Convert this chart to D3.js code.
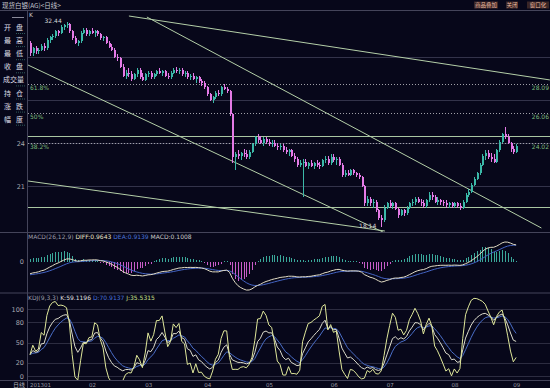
<!DOCTYPE html>
<html>
<head>
<meta charset="utf-8">
<script src="https://cdn.jsdelivr.net/npm/d3@7"></script>
<style>
  html, body { margin: 0; padding: 0; background: #07071a; }
  svg { display: block; font-family: "DejaVu Sans", sans-serif; }
  .cjk { font-family: "Noto Sans CJK SC", sans-serif; }
</style>
</head>
<body>
<div class="canvas"></div>
<script>
// dimensions
const w = 550;
const h = 388;

// month axis
const monthLabels = ["201301", "02", "03", "04", "05", "06", "07", "08", "09"];
const monthDays = [21, 20, 21, 22, 23, 20, 23, 22, 2];

// daily candles [open, high, low, close]
const candles = [
  // Jan
  [31.0, 31.1, 30.1, 30.3], [30.3, 30.7, 30.1, 30.6], [30.6, 30.8, 30.2, 30.4], [30.4, 30.6, 30.2, 30.5],
  [30.5, 30.9, 30.4, 30.8], [30.8, 31.0, 30.4, 30.6], [30.6, 31.3, 30.5, 31.2], [31.2, 31.5, 31.0, 31.4],
  [31.4, 31.6, 31.2, 31.5], [31.5, 31.9, 31.3, 31.8], [31.8, 31.9, 31.5, 31.7], [31.7, 32.2, 31.6, 32.1],
  [32.1, 32.3, 31.9, 32.2], [32.2, 32.44, 32.0, 32.3], [32.3, 32.4, 31.7, 31.8], [31.8, 31.9, 31.2, 31.3],
  [31.3, 31.5, 30.9, 31.0], [31.0, 31.2, 30.8, 31.1], [31.1, 31.8, 31.0, 31.7], [31.7, 32.0, 31.6, 31.9],
  [31.9, 32.0, 31.5, 31.6],
  // Feb
  [31.6, 31.9, 31.5, 31.8], [31.8, 32.0, 31.6, 31.7], [31.7, 31.9, 31.4, 31.8], [31.8, 31.9, 31.5, 31.6],
  [31.6, 31.7, 31.2, 31.3], [31.3, 31.5, 31.1, 31.4], [31.4, 31.5, 30.9, 31.0], [31.0, 31.1, 30.6, 30.7],
  [30.7, 30.9, 30.4, 30.5], [30.5, 30.6, 29.9, 30.0], [30.0, 30.2, 29.7, 29.9], [29.9, 30.0, 29.2, 29.3],
  [29.3, 29.5, 28.6, 28.7], [28.7, 29.1, 28.5, 28.9], [28.9, 29.2, 28.6, 28.8], [28.8, 29.0, 28.3, 28.5],
  [28.5, 28.9, 28.4, 28.8], [28.8, 29.2, 28.6, 29.1], [29.1, 29.2, 28.5, 28.6], [28.6, 28.9, 28.3, 28.4],
  // Mar
  [28.4, 28.9, 28.3, 28.8], [28.8, 29.0, 28.6, 28.9], [28.9, 29.0, 28.5, 28.6], [28.6, 28.9, 28.5, 28.8],
  [28.8, 29.1, 28.7, 29.0], [29.0, 29.2, 28.8, 28.9], [28.9, 29.1, 28.7, 29.0], [29.0, 29.1, 28.6, 28.7],
  [28.7, 28.9, 28.5, 28.6], [28.6, 29.0, 28.5, 28.9], [28.9, 29.2, 28.8, 29.1], [29.1, 29.3, 28.9, 29.0],
  [29.0, 29.2, 28.8, 29.1], [29.1, 29.2, 28.7, 28.8], [28.8, 29.0, 28.6, 28.9], [28.9, 29.0, 28.5, 28.6],
  [28.6, 28.8, 28.4, 28.7], [28.7, 28.9, 28.4, 28.5], [28.5, 28.7, 28.2, 28.6], [28.6, 28.7, 28.2, 28.3],
  [28.3, 28.5, 28.0, 28.2],
  // Apr
  [28.2, 28.3, 27.8, 27.9], [27.9, 28.0, 27.3, 27.4], [27.4, 27.5, 26.9, 27.0], [27.0, 27.3, 26.8, 27.2],
  [27.2, 27.6, 27.1, 27.5], [27.5, 27.7, 27.3, 27.4], [27.4, 28.0, 27.3, 27.9], [27.9, 28.1, 27.7, 27.8],
  [27.8, 27.9, 27.5, 27.6], [27.6, 27.7, 25.9, 26.0], [26.0, 26.1, 22.6, 23.0], [23.0, 23.4, 22.1, 23.2],
  [23.2, 23.5, 22.9, 23.1], [23.1, 23.4, 22.8, 23.3], [23.3, 23.6, 23.0, 23.2], [23.2, 23.5, 22.9, 23.0],
  [23.0, 23.5, 22.9, 23.4], [23.4, 24.0, 23.3, 23.9], [23.9, 24.5, 23.8, 24.4], [24.4, 24.6, 24.0, 24.2],
  [24.2, 24.5, 23.9, 24.0], [24.0, 24.4, 23.8, 24.3],
  // May
  [24.3, 24.4, 23.9, 24.1], [24.1, 24.3, 23.8, 23.9], [23.9, 24.2, 23.7, 24.0], [24.0, 24.2, 23.7, 23.8],
  [23.8, 24.0, 23.5, 23.7], [23.7, 23.9, 23.5, 23.8], [23.8, 23.9, 23.4, 23.5], [23.5, 23.7, 23.2, 23.4],
  [23.4, 23.6, 23.1, 23.5], [23.5, 23.6, 23.0, 23.1], [23.1, 23.3, 22.7, 22.9], [22.9, 23.0, 22.3, 22.5],
  [22.5, 22.8, 22.3, 22.6], [22.6, 22.9, 20.2, 22.7], [22.7, 22.9, 22.3, 22.4], [22.4, 22.7, 22.2, 22.6],
  [22.6, 22.8, 22.3, 22.4], [22.4, 22.7, 22.2, 22.6], [22.6, 22.8, 22.3, 22.5], [22.5, 22.7, 22.2, 22.4],
  [22.4, 22.9, 22.3, 22.8], [22.8, 23.1, 22.6, 22.9], [22.9, 23.1, 22.5, 22.6],
  // Jun
  [22.6, 23.2, 22.5, 23.0], [23.0, 23.2, 22.7, 22.8], [22.8, 23.0, 22.5, 22.9], [22.9, 23.0, 22.4, 22.5],
  [22.5, 22.6, 21.6, 21.8], [21.8, 22.1, 21.6, 21.9], [21.9, 22.1, 21.7, 21.8], [21.8, 22.2, 21.7, 22.1],
  [22.1, 22.2, 21.8, 21.9], [21.9, 22.0, 21.6, 21.8], [21.8, 21.9, 21.5, 21.6], [21.6, 21.7, 20.9, 21.0],
  [21.0, 21.1, 19.6, 19.8], [19.8, 20.3, 19.6, 20.1], [20.1, 20.2, 19.6, 19.8], [19.8, 20.1, 19.5, 19.9],
  [19.9, 20.0, 19.2, 19.3], [19.3, 19.4, 18.6, 18.8], [18.8, 19.0, 18.14, 18.6], [18.6, 19.7, 18.5, 19.5],
  // Jul
  [19.5, 19.9, 19.4, 19.8], [19.8, 20.0, 19.5, 19.6], [19.6, 19.9, 19.4, 19.8], [19.8, 19.9, 19.3, 19.4],
  [19.4, 19.5, 18.8, 19.0], [19.0, 19.4, 18.9, 19.3], [19.3, 19.4, 18.9, 19.1], [19.1, 19.6, 19.0, 19.5],
  [19.5, 19.9, 19.4, 19.8], [19.8, 20.1, 19.6, 19.9], [19.9, 20.2, 19.7, 20.1], [20.1, 20.2, 19.8, 19.9],
  [19.9, 20.1, 19.6, 19.8], [19.8, 20.0, 19.5, 19.6], [19.6, 20.1, 19.5, 20.0], [20.0, 20.6, 19.9, 20.4],
  [20.4, 20.6, 20.0, 20.2], [20.2, 20.4, 19.8, 19.9], [19.9, 20.2, 19.7, 20.0], [20.0, 20.1, 19.7, 19.9],
  [19.9, 20.0, 19.6, 19.8], [19.8, 20.0, 19.5, 19.7], [19.7, 19.9, 19.5, 19.8],
  // Aug
  [19.8, 19.9, 19.5, 19.6], [19.6, 19.9, 19.5, 19.8], [19.8, 19.9, 19.5, 19.6], [19.6, 19.8, 19.3, 19.5],
  [19.5, 20.0, 19.4, 19.9], [19.9, 20.5, 19.8, 20.4], [20.4, 20.8, 20.2, 20.6], [20.6, 21.2, 20.5, 21.1],
  [21.1, 21.6, 21.0, 21.5], [21.5, 22.0, 21.4, 21.9], [21.9, 22.6, 21.8, 22.5], [22.5, 23.2, 22.4, 23.1],
  [23.1, 23.5, 22.8, 23.3], [23.3, 23.5, 22.9, 23.0], [23.0, 23.3, 22.7, 22.9], [22.9, 23.2, 22.6, 22.7],
  [22.7, 23.6, 22.6, 23.5], [23.5, 24.2, 23.4, 24.1], [24.1, 24.7, 24.0, 24.6], [24.6, 25.1, 24.3, 24.4],
  [24.4, 24.6, 23.9, 24.0], [24.0, 24.1, 23.4, 23.6],
  // Sep
  [23.6, 23.8, 23.2, 23.4], [23.4, 23.9, 23.3, 23.8]
];

// price levels and drawn lines
const priceGrid = [21, 24, 27, 30];
const priceLabels = [24, 21];
const fibLevels = [28.09, 26.06, 24.02];
const fibNames = ["61.8%", "50%", "38.2%"];
const levelLines = [24.49, 19.53];
// [index0, price0, index1, price1]
const trendLines = [
  [35.2, 32.86, 185, 28.4],
  [41.6, 32.79, 182, 18.07],
  [-0.7, 29.44, 125.6, 17.79],
  [-0.7, 21.35, 126.3, 17.86]
];
const kdjTicks = [100, 80, 50, 20, 0];
const infoLabels = [["开", "盘"], ["最", "高"], ["最", "低"], ["收", "盘"], ["成交量"], ["持", "仓"], ["涨", "跌"], ["幅", "度"]];
// indicator state before the first bar
const macdStart = [30.7, 31.35, -0.7]; // ema12, ema26, dea
const kdjStart = [38, 32]; // k, d

// colours
const upColor = "#3bb8a8";
const downColor = "#e47ae6";
const gridColor = "#33334a";
const frameColor = "#44445a";

const svg = d3.select(".canvas").append("svg").attr("width", w).attr("height", h);
svg.append("rect").attr("width", w).attr("height", h).attr("fill", "#07071a");

// scales
const n = candles.length;
const x = d3.scaleLinear().domain([0, n - 1]).range([30, 30 + (n - 1) * 2.81]);
const y = d3.scaleLinear().domain([18.07, 33.14]).range([228, 12]);
const macdY = d3.scaleLinear().domain([-1.5, 1.65]).range([290, 231]);
const kdjY = d3.scaleLinear().domain([0, 100]).range([376, 309]);

// clip paths for the three panels
const defs = svg.append("defs");
const panels = [["clipMain", 11, 232], ["clipMacd", 233, 292], ["clipKdj", 294, 380]];
panels.forEach(([id, t, b]) => {
  defs.append("clipPath").attr("id", id).append("rect").attr("x", 28).attr("y", t).attr("width", w - 28).attr("height", b - t);
});

// frame lines
[10, 232, 292.5, 380].forEach((yy) => {
  svg.append("line").attr("x1", 0).attr("x2", w).attr("y1", yy + 0.5).attr("y2", yy + 0.5).attr("stroke", frameColor);
});
svg.append("line").attr("x1", 27.5).attr("x2", 27.5).attr("y1", 10).attr("y2", 388).attr("stroke", frameColor);

// title bar
svg.append("text").attr("class", "cjk").attr("x", 2).attr("y", 7.5).attr("font-size", 6.5).attr("fill", "#c8c8d0")
  .text("现货白银(AG)<日线>");
const buttons = [["商品叠加", 474, 24], ["关闭", 506, 12], ["窗口化", 527, 22]];
buttons.forEach(([t, bx, bw]) => {
  svg.append("rect").attr("x", bx).attr("y", 1.5).attr("width", bw).attr("height", 7).attr("fill", "#3a2626");
  svg.append("text").attr("class", "cjk").attr("x", bx + bw / 2).attr("y", 7.3).attr("text-anchor", "middle")
    .attr("font-size", 5.5).attr("fill", "#e8b8a0").text(t);
});

// info panel on the left
svg.append("line").attr("x1", 12).attr("x2", 24).attr("y1", 17.5).attr("y2", 17.5).attr("stroke", "#8a8a9a");
infoLabels.forEach((lab, i) => {
  const ly = 27 + i * 13.1;
  if (lab.length === 2) {
    svg.append("text").attr("class", "cjk").attr("x", 7.5).attr("y", ly + 3).attr("text-anchor", "middle")
      .attr("font-size", 7).attr("fill", "#dcdce4").text(lab[0]);
    svg.append("text").attr("class", "cjk").attr("x", 19.5).attr("y", ly + 3).attr("text-anchor", "middle")
      .attr("font-size", 7).attr("fill", "#dcdce4").text(lab[1]);
  } else {
    svg.append("text").attr("class", "cjk").attr("x", 13.5).attr("y", ly + 3).attr("text-anchor", "middle")
      .attr("font-size", 7).attr("fill", "#dcdce4").text(lab[0]);
  }
  svg.append("line").attr("x1", 16).attr("x2", 26).attr("y1", ly + 6.5).attr("y2", ly + 6.5)
    .attr("stroke", "#2e5a5a").attr("stroke-dasharray", "1,1");
});

// ---------- main price panel ----------
const main = svg.append("g").attr("clip-path", "url(#clipMain)");

main.selectAll(".grid").data(priceGrid).enter().append("line")
  .attr("x1", 28).attr("x2", w)
  .attr("y1", (d) => Math.round(y(d)) + 0.5).attr("y2", (d) => Math.round(y(d)) + 0.5)
  .attr("stroke", gridColor);

svg.selectAll(".plabel").data(priceLabels).enter().append("text")
  .attr("x", 25).attr("y", (d) => y(d) + 2.5).attr("text-anchor", "end")
  .attr("font-size", 6.5).attr("fill", "#a8a8b0").text((d) => d);

// fibonacci levels
main.selectAll(".fib").data(fibLevels).enter().append("line")
  .attr("x1", 28).attr("x2", w)
  .attr("y1", (d) => Math.round(y(d)) + 0.5).attr("y2", (d) => Math.round(y(d)) + 0.5)
  .attr("stroke", "#a0a0a8").attr("stroke-dasharray", "1,2");
main.selectAll(".fibl").data(fibLevels).enter().append("text")
  .attr("x", 30).attr("y", (d) => y(d) + 6)
  .attr("font-size", 6).attr("fill", "#7cba7c").text((d, i) => fibNames[i]);
main.selectAll(".fibr").data(fibLevels).enter().append("text")
  .attr("x", 549).attr("y", (d) => y(d) + 6).attr("text-anchor", "end")
  .attr("font-size", 6).attr("fill", "#7cba7c").text((d) => d.toFixed(2));

// horizontal level lines
main.selectAll(".lvl").data(levelLines).enter().append("line")
  .attr("x1", 28).attr("x2", w)
  .attr("y1", (d) => Math.round(y(d)) + 0.5).attr("y2", (d) => Math.round(y(d)) + 0.5)
  .attr("stroke", "#a9c6a2");

// trend lines
main.selectAll(".trend").data(trendLines).enter().append("line")
  .attr("x1", (d) => x(d[0])).attr("y1", (d) => y(d[1]))
  .attr("x2", (d) => x(d[2])).attr("y2", (d) => y(d[3]))
  .attr("stroke", "#b4cfa8").attr("stroke-width", 1);

// candles
const candleG = main.selectAll(".candle").data(candles).enter().append("g").attr("shape-rendering", "crispEdges");
candleG.append("line")
  .attr("x1", (d, i) => Math.round(x(i)) + 0.5).attr("x2", (d, i) => Math.round(x(i)) + 0.5)
  .attr("y1", (d) => y(d[1])).attr("y2", (d) => y(d[2]))
  .attr("stroke", (d) => (d[3] >= d[0] ? upColor : downColor));
candleG.append("rect")
  .attr("x", (d, i) => Math.round(x(i)) - 0.5)
  .attr("width", 2)
  .attr("y", (d) => y(Math.max(d[0], d[3])))
  .attr("height", (d) => Math.max(1, Math.abs(y(d[0]) - y(d[3]))))
  .attr("fill", (d) => (d[3] >= d[0] ? upColor : downColor));

// high / low marks
const hiIdx = d3.maxIndex(candles, (d) => d[1]);
const loIdx = d3.minIndex(candles, (d) => d[2]);
main.append("text").attr("x", x(hiIdx) - 22).attr("y", y(candles[hiIdx][1]) + 1)
  .attr("font-size", 6).attr("fill", "#d8d8d8").text(candles[hiIdx][1].toFixed(2));
main.append("text").attr("x", x(loIdx) - 5).attr("y", y(candles[loIdx][2]) + 1).attr("text-anchor", "end")
  .attr("font-size", 6).attr("fill", "#d8d8d8").text(candles[loIdx][2].toFixed(2));
svg.append("text").attr("x", 29).attr("y", 17).attr("font-size", 6).attr("fill", "#d0d0d0").text("K");

// ---------- MACD(26,12,9) ----------
let [e12, e26, dea] = macdStart;
const macd = candles.map((d) => {
  e12 = (e12 * 11 + d[3] * 2) / 13;
  e26 = (e26 * 25 + d[3] * 2) / 27;
  const diff = e12 - e26;
  dea = (dea * 8 + diff * 2) / 10;
  return { diff, dea, bar: 2 * (diff - dea) };
});

const macdG = svg.append("g").attr("clip-path", "url(#clipMacd)");
macdG.selectAll(".bar").data(macd).enter().append("line")
  .attr("shape-rendering", "crispEdges")
  .attr("x1", (d, i) => Math.round(x(i)) + 0.5).attr("x2", (d, i) => Math.round(x(i)) + 0.5)
  .attr("y1", macdY(0)).attr("y2", (d) => macdY(d.bar) + (d.bar >= 0 ? -0.6 : 0.6))
  .attr("stroke", (d) => (d.bar >= 0 ? "#3aa89a" : "#c85cc8"));
macdG.append("path").datum(macd)
  .attr("d", d3.line().x((d, i) => x(i)).y((d) => macdY(d.dea)))
  .attr("fill", "none").attr("stroke", "#4464c4").attr("stroke-width", 1);
macdG.append("path").datum(macd)
  .attr("d", d3.line().x((d, i) => x(i)).y((d) => macdY(d.diff)))
  .attr("fill", "none").attr("stroke", "#e2dcc4").attr("stroke-width", 1);

svg.append("text").attr("x", 24).attr("y", macdY(0) + 2.5).attr("text-anchor", "end")
  .attr("font-size", 6.5).attr("fill", "#a8a8b0").text("0");
const macdText = svg.append("text").attr("x", 28).attr("y", 239).attr("font-size", 6);
macdText.append("tspan").attr("fill", "#9c9ca8").text("MACD(26,12,9) ");
macdText.append("tspan").attr("fill", "#e8e4c8").text("DIFF:0.9643 ");
macdText.append("tspan").attr("fill", "#4a72d8").text("DEA:0.9139 ");
macdText.append("tspan").attr("fill", "#c8c8c8").text("MACD:0.1008");

// ---------- KDJ(9,3,3) ----------
let [kv, dv] = kdjStart;
const kdj = candles.map((d, i) => {
  const win = candles.slice(Math.max(0, i - 8), i + 1);
  const hh = d3.max(win, (c) => c[1]);
  const ll = d3.min(win, (c) => c[2]);
  const rsv = hh === ll ? 50 : ((d[3] - ll) / (hh - ll)) * 100;
  kv = (2 * kv + rsv) / 3;
  dv = (2 * dv + kv) / 3;
  return { k: kv, d: dv, j: 3 * kv - 2 * dv };
});

const kdjG = svg.append("g").attr("clip-path", "url(#clipKdj)");
kdjG.selectAll(".kgrid").data(kdjTicks).enter().append("line")
  .attr("x1", 28).attr("x2", w)
  .attr("y1", (d) => Math.round(kdjY(d)) + 0.5).attr("y2", (d) => Math.round(kdjY(d)) + 0.5)
  .attr("stroke", "#2c2c40");
svg.selectAll(".klabel").data(kdjTicks).enter().append("text")
  .attr("x", 24).attr("y", (d) => kdjY(d) + 2.5).attr("text-anchor", "end")
  .attr("font-size", 6.5).attr("fill", "#a8a8b0").text((d) => d);

[["d", "#4a6ec8"], ["k", "#dcdccc"], ["j", "#dfe79a"]].forEach(([key, col]) => {
  kdjG.append("path").datum(kdj)
    .attr("d", d3.line().x((d, i) => x(i)).y((d) => kdjY(d[key])))
    .attr("fill", "none").attr("stroke", col).attr("stroke-width", 1);
});

const kdjText = svg.append("text").attr("x", 28).attr("y", 299.5).attr("font-size", 6);
kdjText.append("tspan").attr("fill", "#9c9ca8").text("KDJ(9,3,3) ");
kdjText.append("tspan").attr("fill", "#e0e0e0").text("K:59.1196 ");
kdjText.append("tspan").attr("fill", "#4a72d8").text("D:70.9137 ");
kdjText.append("tspan").attr("fill", "#c8e08c").text("J:35.5315");

// ---------- date axis ----------
const monthStarts = monthDays.map((m, i) => d3.sum(monthDays.slice(0, i)));
svg.append("text").attr("class", "cjk").attr("x", 13).attr("y", 386.5).attr("font-size", 6)
  .attr("fill", "#b0b0b8").text("日线");
svg.selectAll(".mlabel").data(monthLabels).enter().append("text")
  .attr("x", (d, i) => x(monthStarts[i]))
  .attr("y", 386.5).attr("font-size", 5.5).attr("fill", "#9a9aa4").text((d) => d);
</script>
</body>
</html>
